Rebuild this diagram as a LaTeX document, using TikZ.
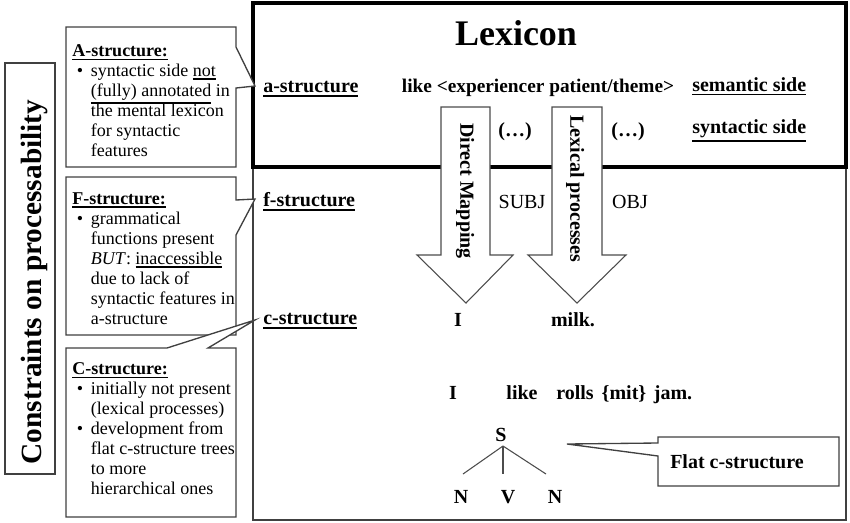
\documentclass[tikz,border=0pt]{standalone}
\usepackage{fontspec}
\setmainfont{Liberation Serif}
\newcommand{\bl}{\makebox[14pt][l]{\hspace{3.5pt}\textbullet}}
\newcommand{\ind}{\hspace*{14pt}}
\newcommand{\uln}[1]{\leavevmode\vtop{\hbox{#1}\kern1.6pt\hrule height 1.1pt}}
\begin{document}
\begin{tikzpicture}[x=0.75pt,y=-0.75pt,
    lbl/.style={font=\fontsize{15}{18}\selectfont\bfseries, inner sep=0pt, text height=10pt, text depth=0pt},
    plain/.style={font=\fontsize{15}{18}\selectfont, inner sep=0pt, text height=10pt, text depth=0pt},
    note/.style={font=\fontsize{13.5}{15}\selectfont, align=left, inner sep=0pt, anchor=north west},
    frame/.style={draw=black!75, line width=1pt, fill=white},
    bigarrow/.style={fill=white, draw=black!70, line width=0.8pt},
    branch/.style={draw=black!70, line width=0.8pt}]
    \useasboundingbox (0,0) rectangle (850,522);
    % lexicon and structure levels
    \draw[draw=black!75, line width=1.1pt] (253,167) rectangle (846,520);
    \draw[line width=2.3pt] (253,3) rectangle (846,167);
    \filldraw[bigarrow] (441,107) -- +(49,0) -- +(49,148) -- +(72,148) -- (466,303) -- (417,255) -- (441,255) -- cycle;
    \filldraw[bigarrow] (552,107) -- +(50,0) -- +(50,148) -- +(74,148) -- (577,303) -- (528,255) -- (552,255) -- cycle;
    \node[lbl, font=\fontsize{27}{30}\selectfont\bfseries, text height=, text depth=, anchor=base] (lexicon) at (516,45) {Lexicon};
    \node[lbl, anchor=west] (astr) at (263,86) {\uln{a-structure}};
    \node[lbl, anchor=west] (fstr) at (263,200) {\uln{f-structure}};
    \node[lbl, anchor=west] (cstr) at (263,318) {\uln{c-structure}};
    \node[lbl, font=\fontsize{14.5}{18}\selectfont\bfseries] (pred) at (538,86) {like <experiencer\ patient/theme>};
    \node[lbl, anchor=west] (sem) at (692,85) {\uln{semantic side}};
    \node[lbl, anchor=west] (syn) at (692,127) {\uln{syntactic side}};
    \node[lbl] (dotsa) at (515,130) {(\ldots)};
    \node[lbl] (dotsb) at (628,130) {(\ldots)};
    \node[plain] (subj) at (522,202) {SUBJ};
    \node[plain] (obj) at (630,202) {OBJ};
    \node[lbl, rotate=-90] (direct) at (467,191) {Direct Mapping};
    \node[lbl, rotate=-90] (lexproc) at (577,189) {Lexical processes};
    \node[lbl] (wi) at (458,320) {I};
    \node[lbl] (wmilk) at (573,320) {milk.};
    % sentence and flat tree
    \node[lbl] (si) at (453,393) {I};
    \node[lbl] (slike) at (522,393) {like};
    \node[lbl] (srolls) at (575,393) {rolls};
    \node[lbl] (smit) at (624,393) {\{mit\}};
    \node[lbl] (sjam) at (673,393) {jam.};
    \node[lbl] (s) at (501,435) {S};
    \node[lbl] (na) at (461,497) {N};
    \node[lbl] (v) at (508,497) {V};
    \node[lbl] (nb) at (555,497) {N};
    \coordinate (sfoot) at (503,446);
    \coordinate (naend) at (463,474);
    \coordinate (vend) at (503,474);
    \coordinate (nbend) at (546,474);
    \draw[branch] (sfoot) -- (naend);
    \draw[branch] (sfoot) -- (vend);
    \draw[branch] (sfoot) -- (nbend);
    \coordinate (flattip) at (567,444);
    \filldraw[frame] (658,437) -- (839,437) -- (839,486) -- (658,486) -- (658,456) -- (flattip) -- (658,443) -- cycle;
    \node[lbl] (flat) at (737,462) {Flat c-structure};
    % constraints
    \draw[frame] (5,63) rectangle (55,474);
    \node[lbl, font=\fontsize{22}{26}\selectfont\bfseries, text height=15pt, rotate=90] (constr) at (31,282) {Constraints on processability};
    \filldraw[frame] (66,27) -- (236,27) -- (236,47) -- (255,86) -- (236,88) -- (236,167) -- (66,167) -- cycle;
    \filldraw[frame] (66,177) -- (236,177) -- (236,200) -- (255,199) -- (236,235) -- (236,335) -- (66,335) -- cycle;
    \filldraw[frame] (66,348) -- (167,348) -- (255,320) -- (208,348) -- (236,348) -- (236,517) -- (66,517) -- cycle;
    \node[note] (anote) at (72,44) {\uln{\textbf{A-structure:}}\\
        \bl syntactic side \uln{not}\\
        \ind\uln{(fully) annotated} in\\
        \ind the mental lexicon\\
        \ind for syntactic\\
        \ind features};
    \node[note] (fnote) at (72,192) {\uln{\textbf{F-structure:}}\\
        \bl grammatical\\
        \ind functions present\\
        \ind\textit{BUT}: \uln{inaccessible}\\
        \ind due to lack of\\
        \ind syntactic features in\\
        \ind a-structure};
    \node[note] (cnote) at (72,362) {\uln{\textbf{C-structure:}}\\
        \bl initially not present\\
        \ind (lexical processes)\\
        \bl development from\\
        \ind flat c-structure trees\\
        \ind to more\\
        \ind hierarchical ones};
\end{tikzpicture}
\end{document}
